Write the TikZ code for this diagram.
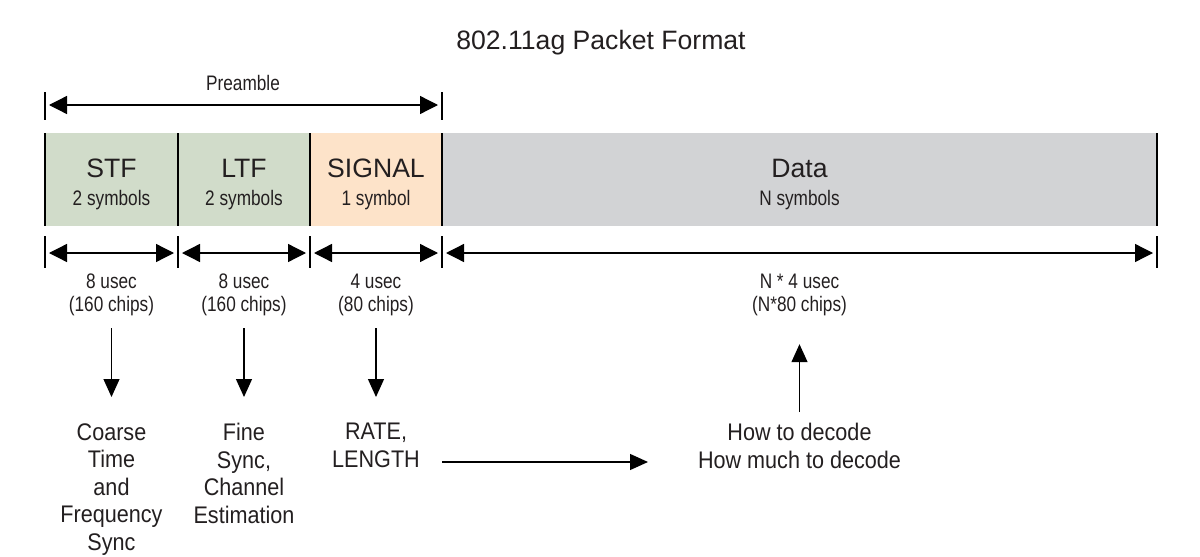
\documentclass[tikz,border=0pt]{standalone}
\usepackage{fontspec}
\setmainfont{Liberation Sans}
\newfontfamily\narrowfont[FakeStretch=0.82]{Liberation Sans}
\newfontfamily\semifont[FakeStretch=0.9]{Liberation Sans}
\usetikzlibrary{arrows.meta}

\definecolor{fieldgreen}{HTML}{D1DCCA}
\definecolor{signalpeach}{HTML}{FDE3C9}
\definecolor{datagray}{HTML}{D2D3D5}
\definecolor{inkgray}{HTML}{231F20}

\tikzset{
  dimarrow/.style={line width=0.65pt, {Triangle[length=9pt,width=9pt]}-{Triangle[length=9pt,width=9pt]}},
  flowarrow/.style={line width=0.65pt, -{Triangle[length=9pt,width=8pt]}},
  tickline/.style={line width=0.6pt},
  sepline/.style={line width=0.8pt},
  bigtext/.style={inner sep=0pt, text=inkgray, font=\fontsize{13.3}{15}\selectfont},
  smalltext/.style={inner sep=0pt, text=inkgray, font=\narrowfont\fontsize{10.5}{12.5}\selectfont},
  notetext/.style={inner sep=0pt, text=inkgray, align=center, anchor=north, font=\semifont\fontsize{12}{13.75}\selectfont},
}

\begin{document}
\begin{tikzpicture}[x=0.5pt, y=-0.5pt]
  \useasboundingbox (0,0) rectangle (1200,557);

  % Title
  \node[bigtext] (title) at (601,43) {802.11ag Packet Format};

  % Preamble span
  \node[smalltext] (preamble) at (243,83) {Preamble};
  \foreach \x in {45,442}
    \draw[tickline] (\x,92) -- (\x,120);
  \coordinate (pre-a) at (49,105);
  \coordinate (pre-b) at (438,105);
  \draw[dimarrow] (pre-a) -- (pre-b);

  % Fields
  \foreach \name/\xa/\xb/\col/\ftitle/\fsub in {stf/45/178/fieldgreen/STF/2 symbols, ltf/178/310/fieldgreen/LTF/2 symbols, sig/310/442/signalpeach/SIGNAL/1 symbol, data/442/1157/datagray/Data/N symbols}
  {
    \fill[\col] (\xa,133) rectangle (\xb,226);
    \node[bigtext] (\name) at ({(\xa+\xb)/2},168) {\ftitle};
    \node[smalltext] (\name-sub) at ({(\xa+\xb)/2},200) {\fsub};
  }

  % Separators and ticks
  \foreach \x in {45,178,310,442,1157}
  {
    \draw[sepline] (\x,133) -- (\x,226);
    \draw[tickline] (\x,236) -- (\x,268);
  }

  % Durations
  \foreach \name/\xa/\xb/\usec/\chips in {stf/45/178/8 usec/{(160 chips)}, ltf/178/310/8 usec/{(160 chips)}, sig/310/442/4 usec/{(80 chips)}, data/442/1157/N * 4 usec/{(N*80 chips)}}
  {
    \coordinate (\name-a) at ({\xa+4},253);
    \coordinate (\name-b) at ({\xb-4},253);
    \draw[dimarrow] (\name-a) -- (\name-b);
    \node[smalltext] (\name-usec) at ({(\xa+\xb)/2},281) {\usec};
    \node[smalltext] (\name-chips) at ({(\xa+\xb)/2},306) {\chips};
  }

  % Purposes
  \node[notetext] (stf-note) at (111.5,423) {Coarse\\Time\\and\\Frequency\\Sync};
  \node[notetext] (ltf-note) at (244,423) {Fine\\Sync,\\Channel\\Estimation};
  \node[notetext] (sig-note) at (376,423) {RATE,\\LENGTH};
  \node[notetext] (data-note) at (799.5,423) {How to decode\\How much to decode};

  % Arrows
  \foreach \name in {stf,ltf,sig}
    \draw[flowarrow] ([yshift=-6pt]\name-chips.south) -- ([yshift=13pt]\name-note.north);
  \draw[flowarrow] ([yshift=5.5pt]data-note.north) -- ([yshift=-14pt]data-chips.south);
  \coordinate (rate-a) at (442,462);
  \coordinate (rate-b) at (648,462);
  \draw[flowarrow] (rate-a) -- (rate-b);
\end{tikzpicture}
\end{document}
